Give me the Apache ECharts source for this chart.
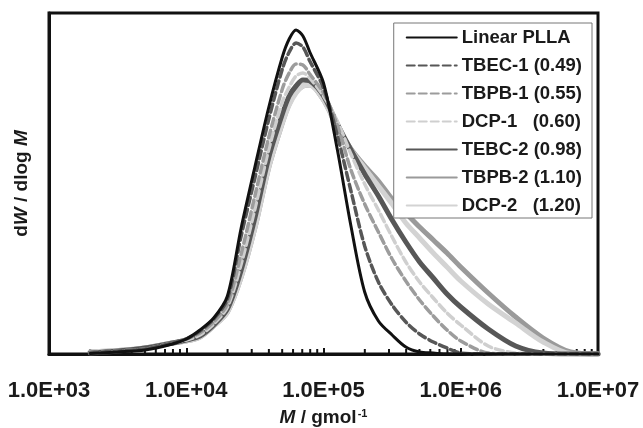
<!DOCTYPE html>
<html>
<head>
<meta charset="utf-8">
<script src="https://cdn.jsdelivr.net/npm/echarts@6/dist/echarts.min.js"></script>
<style>
  html, body { margin: 0; padding: 0; background: #fff; }
  #chart { width: 643px; height: 428px; }
</style>
</head>
<body>
<div id="chart"></div>
<script>
// log10(M) sample points, shared by all curves
let logM = [3.3, 3.5, 3.7, 3.9, 4.0, 4.1, 4.2, 4.3, 4.4, 4.5, 4.6, 4.7, 4.75, 4.8, 4.85, 4.9,
            5.0, 5.1, 5.2, 5.3, 5.4, 5.5, 5.6, 5.7, 5.8, 5.9, 6.0, 6.2, 6.4, 6.6, 6.8, 7.0];

// dW/dlogM, relative units
let linearPLLA = [0.5, 2, 4, 10, 15, 24, 36, 58, 126, 187, 246, 297, 315, 324, 318, 302,
                  271, 205, 128, 62, 33, 19, 7, 2, 1, 0, 0, 0, 0, 0, 0, 0];
let tbec1 = [1, 3, 5, 11, 15, 23, 35, 55, 118, 176, 234, 285, 302, 311, 307, 293,
             266, 219, 163, 108, 72, 49, 32, 20, 12, 6, 1, 0, 0, 0, 0, 0];
let tbpb1 = [1, 3, 5, 11, 15, 21, 32, 50, 100, 158, 216, 265, 281, 290, 289, 280,
             261, 229, 184, 150, 122, 95, 73, 54, 38, 24, 13, 1, 0, 0, 0, 0];
let dcp1 = [1, 3, 5, 11, 14, 19, 30, 47, 90, 145, 204, 252, 267, 278, 281, 276,
            258, 233, 200, 170, 144, 117, 92, 72, 56, 41, 29, 8, 1, 0, 0, 0];
let tebc2 = [1, 3, 6, 11, 14, 18, 29, 45, 84, 136, 196, 240, 258, 268, 274, 273,
             258, 230, 204, 180, 158, 134, 112, 92, 76, 60, 47, 25, 8, 1, 0, 0];
let tbpb2 = [2, 3.5, 6, 11, 13, 17, 28, 42, 77, 126, 186, 231, 250, 262, 268, 269,
             254, 227, 205, 188, 173, 155, 141, 127, 114, 101, 87, 61, 37, 16, 2, 0];
let dcp2 = [2, 3.5, 6, 11, 13, 17, 28, 42, 77, 126, 186, 231, 249, 261, 268, 269,
            254, 227, 204, 186, 168, 150, 131, 116, 101, 87, 73, 50, 31, 12, 0.5, 0];

let legendNames = ['Linear PLLA', 'TBEC-1 (0.49)', 'TBPB-1 (0.55)', 'DCP-1   (0.60)',
                   'TEBC-2 (0.98)', 'TBPB-2 (1.10)', 'DCP-2   (1.20)'];
let decades = [3, 4, 5, 6];
let minorMultipliers = [2, 3, 4, 5, 6, 7, 8, 9];

let font = 'Liberation Sans, Arial, sans-serif';

function pairs(vals){
  return logM.map((l, i) => [Math.pow(10, l), vals[i]]);
}

let minorTicks = [];
decades.forEach(d => minorMultipliers.forEach(k => minorTicks.push([k * Math.pow(10, d), 0])));

// draw order: light solids underneath, black on top
let curves = [
  { name: legendNames[5], vals: tbpb2, color: '#9a9a9a', width: 5, type: 'solid' },
  { name: legendNames[6], vals: dcp2, color: '#d3d3d3', width: 5, type: 'solid' },
  { name: legendNames[4], vals: tebc2, color: '#575757', width: 5, type: 'solid' },
  { name: legendNames[3], vals: dcp1, color: '#cfcfcf', width: 3.5, type: [8, 4] },
  { name: legendNames[2], vals: tbpb1, color: '#9c9c9c', width: 3.5, type: [8, 4] },
  { name: legendNames[1], vals: tbec1, color: '#575757', width: 3.5, type: [8, 4] },
  { name: legendNames[0], vals: linearPLLA, color: '#111', width: 3, type: 'solid' }
];

let series = curves.map(c => ({
  type: 'line',
  name: c.name,
  data: pairs(c.vals),
  symbol: 'none',
  showSymbol: false,
  smooth: 0.3,
  lineStyle: { color: c.color, width: c.width, type: c.type, cap: 'round' },
  itemStyle: { color: c.color },
  z: 3
}));

series.push({
  type: 'custom',
  data: minorTicks,
  silent: true,
  z: 2,
  renderItem: function(params, api){
    let p = api.coord([api.value(0), api.value(1)]);
    return {
      type: 'line',
      shape: { x1: p[0], y1: p[1], x2: p[0], y2: p[1] - 5 },
      style: { stroke: '#111', lineWidth: 2 }
    };
  }
});

let chart = echarts.init(document.getElementById('chart'), null, { renderer: 'canvas' });

chart.setOption({
  animation: false,
  backgroundColor: '#fff',
  grid: {
    left: 49, right: 45, top: 13, bottom: 74,
    outerBoundsMode: 'none',
    containLabel: false,
    show: true, borderColor: '#111', borderWidth: 3
  },
  legend: {
    data: legendNames,
    orient: 'vertical',
    right: 51,
    top: 23,
    padding: [5, 10, 3, 12],
    itemWidth: 50,
    itemHeight: 14,
    itemGap: 9,
    itemStyle: { opacity: 0, borderWidth: 0 },
    backgroundColor: '#fff',
    borderColor: '#777',
    borderWidth: 1,
    borderRadius: 0,
    textStyle: { fontFamily: font, fontSize: 18.5, fontWeight: 'bold', color: '#1a1a1a', lineHeight: 18 },
    z: 10
  },
  xAxis: {
    type: 'log',
    logBase: 10,
    min: 1e3,
    max: 1e7,
    axisLine: { lineStyle: { color: '#111', width: 3 } },
    axisTick: { show: true, inside: true, length: 6, lineStyle: { color: '#111', width: 2 } },
    splitLine: { show: false },
    axisLabel: {
      margin: 26,
      fontFamily: font,
      fontSize: 22,
      fontWeight: 'bold',
      color: '#1a1a1a',
      showMinLabel: true,
      showMaxLabel: true,
      formatter: v => '1.0E+' + String(Math.round(Math.log10(v))).padStart(2, '0')
    },
    name: '{i|M}{n| / gmol}{s|-1}',
    nameLocation: 'middle',
    nameGap: 54,
    nameTextStyle: {
      rich: {
        i: { fontFamily: font, fontSize: 19, fontWeight: 'bold', fontStyle: 'italic', color: '#1a1a1a' },
        n: { fontFamily: font, fontSize: 19, fontWeight: 'bold', color: '#1a1a1a' },
        s: { fontFamily: font, fontSize: 11, fontWeight: 'bold', color: '#1a1a1a', padding: [0, 0, 9, 1] }
      }
    }
  },
  yAxis: {
    type: 'value',
    min: 0,
    max: 341,
    axisLine: { show: true, lineStyle: { color: '#111', width: 3 } },
    axisTick: { show: false },
    axisLabel: { show: false },
    splitLine: { show: false },
    name: '{n|d}{i|W}{n| / dlog }{i|M}',
    nameLocation: 'middle',
    nameGap: 18,
    nameTextStyle: {
      rich: {
        i: { fontFamily: font, fontSize: 19, fontWeight: 'bold', fontStyle: 'italic', color: '#1a1a1a' },
        n: { fontFamily: font, fontSize: 19, fontWeight: 'bold', color: '#1a1a1a' }
      }
    }
  },
  series: series
});
</script>
</body>
</html>
